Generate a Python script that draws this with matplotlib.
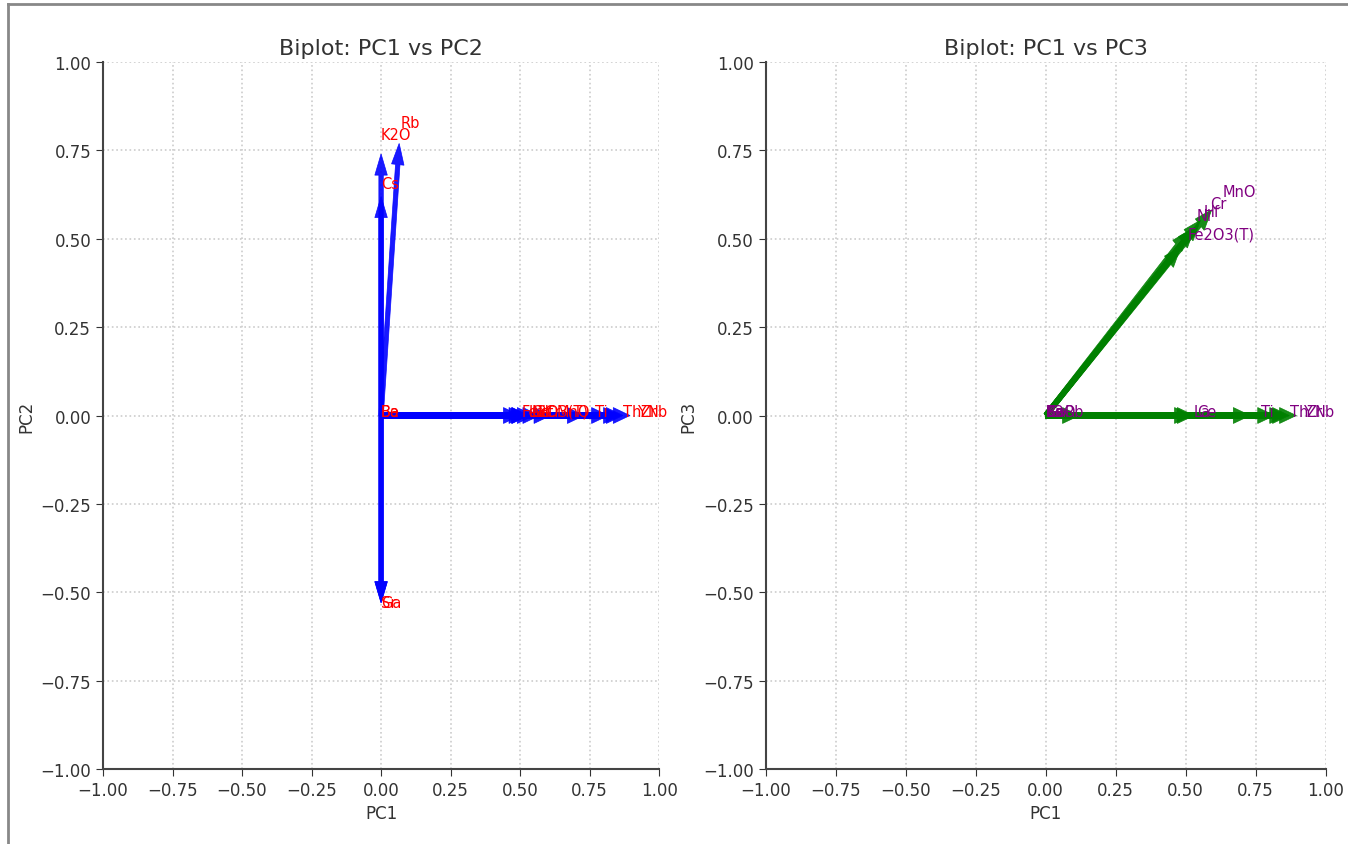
import numpy as np
import matplotlib
matplotlib.use("Agg")
import matplotlib.pyplot as plt
from matplotlib.lines import Line2D

plt.rcParams['font.family'] = ['DejaVu Sans']

# loadings
variables = ['Ba', 'Be', 'Cs', 'Rb', 'K2O', 'Ga', 'Sr',
             'La', 'Ce', 'Fe2O3(T)', 'MnO', 'Cr', 'Hf', 'Ni',
             'Ti', 'Th', 'Y', 'Zr', 'Nb']
pc1 = [0.0, 0.0, 0.0, 0.06, 0.0, 0.0, 0.0,
       0.46, 0.47, 0.44, 0.55, 0.51, 0.49, 0.47,
       0.67, 0.757, 0.80, 0.81, 0.835]
pc2 = [0.0, 0.0, 0.56, 0.71, 0.68, -0.47, -0.47,
       0.0, 0.0, 0.0, 0.0, 0.0, 0.0, 0.0,
       0.0, 0.0, 0.0, 0.0, 0.0]
pc3 = [0.0, 0.0, 0.0, 0.0, 0.0, 0.0, 0.0,
       0.0, 0.0, 0.435, 0.54, 0.51, 0.49, 0.48,
       0.0, 0.0, 0.0, 0.0, 0.0]

ticks = [-1.00, -0.75, -0.50, -0.25, 0.00, 0.25, 0.50, 0.75, 1.00]


def biplot(ax, xs, ys, arrow_color, text_color, title, ylabel):
    ax.set_axisbelow(True)
    for name, x, y in zip(variables, xs, ys):
        if x != 0 or y != 0:
            ax.arrow(0, 0, x, y, width=0.016, head_width=0.045, head_length=0.06,
                     color=arrow_color, alpha=0.9, linewidth=0.5)
        ax.text(x * 1.15, y * 1.15, name, color=text_color, fontsize=10.5)
    ax.set_xlim(-1, 1)
    ax.set_ylim(-1, 1)
    ax.set_xticks(ticks)
    ax.set_yticks(ticks)
    ax.tick_params(labelsize=12, colors='#333333', length=5)
    ax.set_title(title, fontsize=16, color='#333333')
    ax.set_xlabel('PC1', fontsize=12, color='#333333')
    ax.set_ylabel(ylabel, fontsize=12, color='#333333')
    ax.grid(True, linestyle=':', color='#cccccc', linewidth=1.2)
    ax.spines['top'].set_visible(False)
    ax.spines['right'].set_visible(False)
    ax.spines['left'].set_color('#444444')
    ax.spines['bottom'].set_color('#444444')
    ax.spines['left'].set_linewidth(1.5)
    ax.spines['bottom'].set_linewidth(1.5)


fig = plt.figure(figsize=(13.48, 8.45), dpi=100)
ax1 = fig.add_axes([0.0764, 0.0888, 0.4126, 0.8366])
ax2 = fig.add_axes([0.568, 0.0888, 0.4155, 0.8366])

biplot(ax1, pc1, pc2, 'blue', 'red', 'Biplot: PC1 vs PC2', 'PC2')
biplot(ax2, pc1, pc3, 'green', 'purple', 'Biplot: PC1 vs PC3', 'PC3')

# screenshot frame
fig.add_artist(Line2D([0.006, 0.006], [0.0, 0.994], color='#888888', linewidth=2,
                      transform=fig.transFigure))
fig.add_artist(Line2D([0.006, 1.0], [0.994, 0.994], color='#888888', linewidth=2,
                      transform=fig.transFigure))

fig.savefig('out.png', dpi=100)
